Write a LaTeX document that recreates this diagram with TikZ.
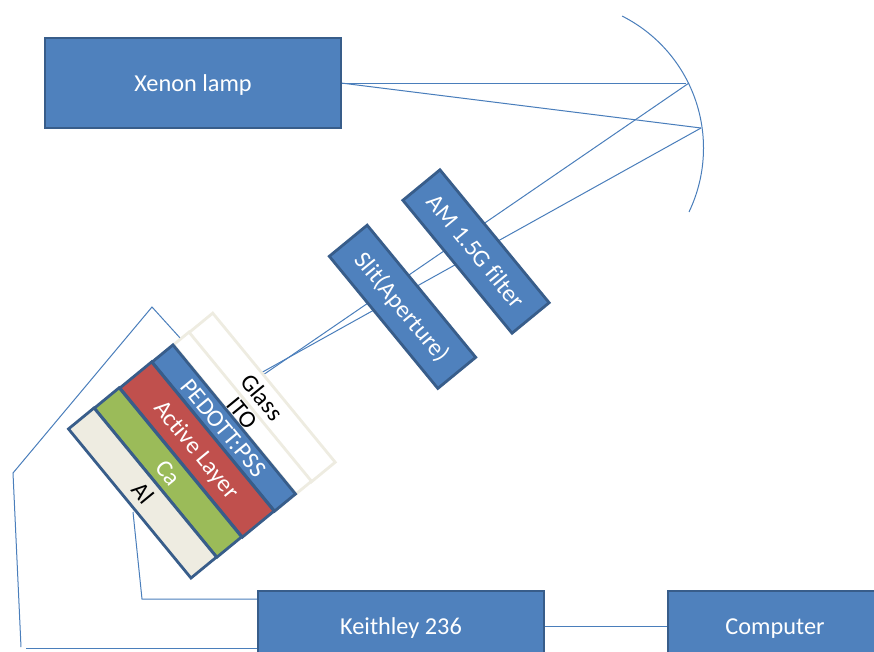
\documentclass[tikz,border=0pt]{standalone}
\usepackage{fontspec}
\setmainfont{Carlito}[Ligatures=NoCommon]
\definecolor{boxfill}{HTML}{4F81BD}
\definecolor{boxline}{HTML}{385D8A}
\definecolor{wire}{HTML}{4A7EBB}
\definecolor{activered}{HTML}{C0504D}
\definecolor{cagreen}{HTML}{9BBB59}
\definecolor{alcream}{HTML}{EEECE1}
\tikzset{
  base/.style={draw=boxline,line width=2.8pt,inner sep=0pt,outer sep=0pt,align=center,text=white,text height=18pt,text depth=2pt,font=\fontsize{24.3}{28}\selectfont},
  panel/.style={base,fill=boxfill},
  tilted/.style={base,rotate=-50.6,minimum width=#1},
  tilted/.default=193pt,
  wireline/.style={draw=wire,line width=1pt}
}
\begin{document}
\begin{tikzpicture}[x=1pt,y=-1pt]
\useasboundingbox (0,0) rectangle (874,651);
\clip (0,0) rectangle (874,651);
% free-end coordinates
\coordinate (m1) at (686,83);
\coordinate (m2) at (701,128);
\coordinate (m3) at (689,83);
\coordinate (f1) at (263,375);
\coordinate (f2) at (259,374);
\coordinate (w1) at (181,339);
\coordinate (w2) at (152,307);
\coordinate (w3) at (13,473);
\coordinate (w4) at (21,647);
\coordinate (w5) at (26,648);
\coordinate (w6) at (133,512);
\coordinate (w7) at (142,599);
% boxes as named nodes (geometry)
\path node[panel,minimum width=296pt,minimum height=90pt] (lamp) at (193,83) {};
\path node[panel,minimum width=286pt,minimum height=70pt] (keithley) at (401,626) {};
\path node[panel,minimum width=214pt,minimum height=70pt] (computer) at (775,626) {};
% connectors under the boxes
\draw[wireline] (lamp.east) -- (m1);
\draw[wireline] (lamp.east) -- (m2);
\draw[wireline] (m3) -- (f1);
\draw[wireline] (m2) -- (f2);
\draw[wireline] (w1) -- (w2) -- (w3) -- (w4);
\draw[wireline] (w5) -- (keithley.west |- w5);
\draw[wireline] (w6) -- (w7) -- (keithley.west |- w7);
\draw[wireline] (keithley.east) -- (computer.west);
\draw[wireline] plot[domain=-63.3:25.6,samples=60,smooth] ({555.7+147.8*cos(\x)},{148.1+147.8*sin(\x)});
% box faces with text
\node[panel,minimum width=296pt,minimum height=90pt] at (lamp.center) {Xenon lamp};
\node[panel,minimum width=286pt,minimum height=70pt] at (keithley.center) {Keithley 236};
\node[panel,minimum width=214pt,minimum height=70pt] at (computer.center) {Computer};
\node[panel,tilted=172pt,minimum height=48pt] (filter) at (476,251.5) {AM 1.5G filter};
\node[panel,tilted=171pt,minimum height=49pt] (slit) at (402.5,306.8) {Slit(Aperture)};
% device stack
\node[tilted,draw=alcream,fill=white,text=black,minimum height=31pt] (glass) at (262,397.5) {Glass};
\node[tilted,draw=alcream,fill=white,text=black,minimum height=19pt] (ito) at (242.5,413) {ITO};
\node[tilted,fill=boxfill,minimum height=27pt] (pedot) at (223.8,428) {PEDOTT:PSS};
\node[tilted,fill=activered,minimum height=41pt] (active) at (197,449.5) {Active Layer};
\node[tilted,fill=cagreen,minimum height=32pt] (ca) at (168,472.5) {Ca};
\node[tilted,fill=alcream,text=black,minimum height=33pt] (al) at (142.5,493) {Al};
\end{tikzpicture}
\end{document}
